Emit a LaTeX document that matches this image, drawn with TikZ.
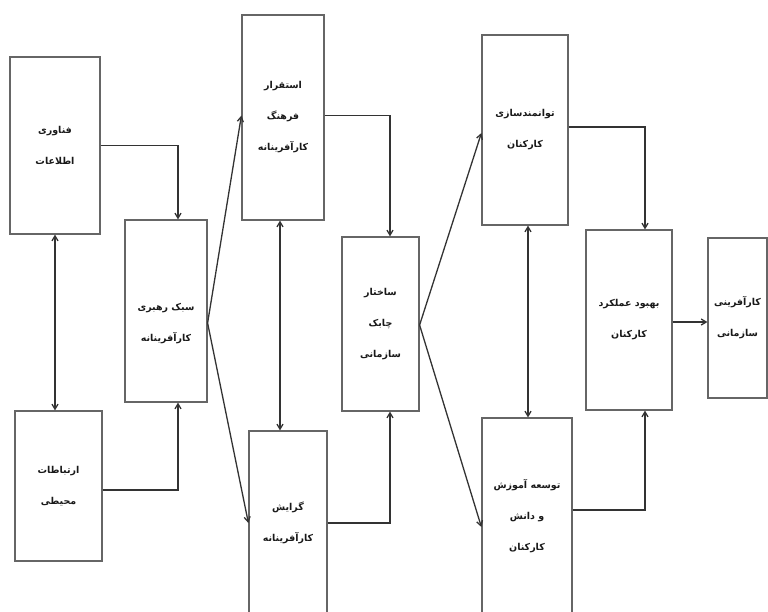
\documentclass[tikz,border=0pt]{standalone}
\usepackage{fontspec}
\TeXXeTstate=1
\newfontfamily\arabicfont[Script=Arabic]{DejaVu Sans}
\usetikzlibrary{arrows.meta,calc}
\newcommand{\myrl}[1]{\beginR #1\endR}
\begin{document}
\begin{tikzpicture}[x=1pt,y=-1pt,
  box/.style={draw=black!60,line width=1.2pt,rectangle,inner sep=0pt,align=center,
    font=\arabicfont\bfseries\fontsize{9.5}{31}\selectfont,text=black!90},
  lbl/.style={inner sep=0pt,align=center,font=\arabicfont\bfseries\fontsize{9.5}{31}\selectfont,text=black!90},
  arr/.style={draw=black!80,line width=1.3pt,-{Straight Barb[length=5pt,width=6pt]}},
  darr/.style={draw=black!80,line width=1.3pt,{Straight Barb[length=5pt,width=6pt]}-{Straight Barb[length=5pt,width=6pt]}}]
\useasboundingbox (0,0) rectangle (768,611);
\fill[white] (0,0) rectangle (768,611);
% boxes
\node[box,minimum width=90,minimum height=177] (a) at (55,145.5) {\myrl{فناوری}\\\myrl{اطلاعات}};
\node[box,minimum width=87,minimum height=150] (b) at (58.5,486) {\myrl{ارتباطات}\\\myrl{محیطی}};
\node[box,minimum width=82,minimum height=182] (c) at (166,311) {};
\node[lbl] (ct) at (166,324) {\myrl{سبک رهبری}\\\myrl{کارآفرینانه}};
\node[box,minimum width=82,minimum height=205] (d) at (283,117.5) {\myrl{استقرار}\\\myrl{فرهنگ}\\\myrl{کارآفرینانه}};
\node[box,minimum width=78,minimum height=184] (e) at (288,523) {\myrl{گرایش}\\\myrl{کارآفرینانه}};
\node[box,minimum width=77,minimum height=174] (f) at (380.5,324) {\myrl{ساختار}\\\myrl{چابک}\\\myrl{سازمانی}};
\node[box,minimum width=86,minimum height=190] (g) at (525,130) {\myrl{توانمندسازی}\\\myrl{کارکنان}};
\node[box,minimum width=90,minimum height=196] (h) at (527,516) {\myrl{توسعه آموزش}\\\myrl{و دانش}\\\myrl{کارکنان}};
\node[box,minimum width=86,minimum height=180] (i) at (629,320) {\myrl{بهبود عملکرد}\\\myrl{کارکنان}};
\node[box,minimum width=59,minimum height=160] (j) at (737.5,318) {\myrl{کارآفرینی}\\\myrl{سازمانی}};
% helper coordinates
\coordinate (ce) at ($(c.east)+(0,12)$);
\coordinate (fe) at ($(f.east)+(0,1)$);
\coordinate (de) at ($(d.south)+(-3,0)$);
\coordinate (gh) at ($(g.south)+(3,0)$);
\coordinate (ie) at ($(i.east)+(0,2)$);
% connectors
\draw[arr] (a.east) -| ($(c.north)+(12,0)$);
\draw[arr] ($(b.east)+(0,4)$) -| ($(c.south)+(12,0)$);
\draw[darr] (a.south) -- (a.south |- b.north);
\draw[arr] (ce) -- ($(d.west)+(0,-2)$);
\draw[arr] (ce) -- (e.west);
\draw[darr] (de) -- (de |- e.north);
\draw[arr] ($(d.east)+(0,-2)$) -| ($(f.north)+(9.5,0)$);
\draw[arr] (e.east) -| ($(f.south)+(9.5,0)$);
\draw[arr] (fe) -- ($(g.west)+(0,3)$);
\draw[arr] (fe) -- ($(h.west)+(0,11)$);
\draw[darr] (gh) -- (gh |- h.north);
\draw[arr] ($(g.east)+(0,-3)$) -| ($(i.north)+(16,0)$);
\draw[arr] ($(h.east)+(0,-6)$) -| ($(i.south)+(16,0)$);
\draw[arr] (ie) -- (ie -| j.west);
\end{tikzpicture}
\end{document}
